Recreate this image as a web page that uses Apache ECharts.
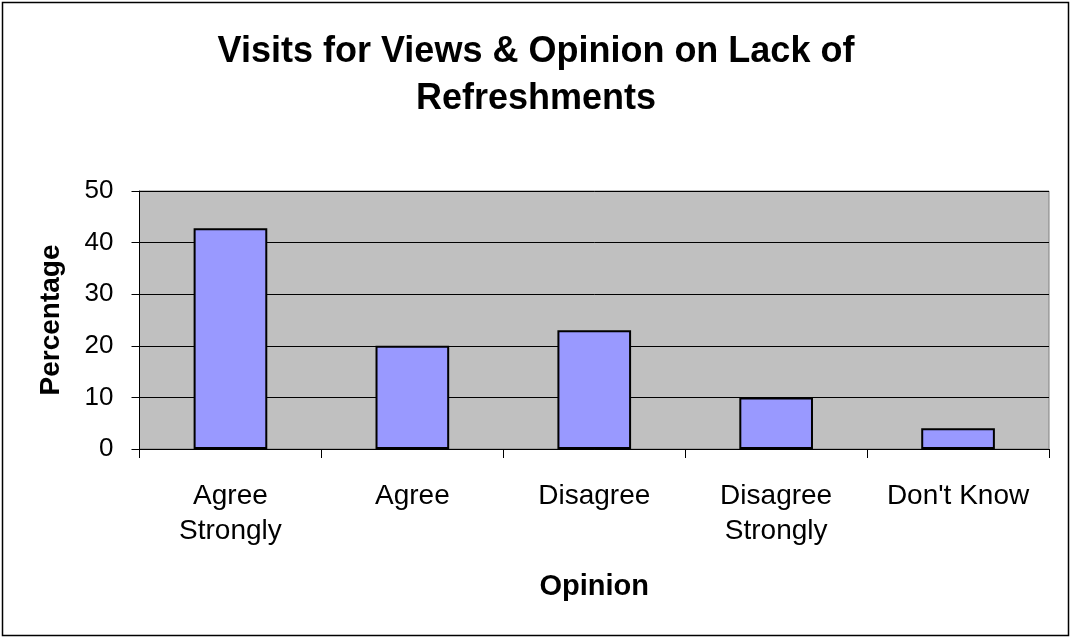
<!DOCTYPE html>
<html>
<head>
<meta charset="utf-8">
<script src="https://cdn.jsdelivr.net/npm/echarts@6/dist/echarts.min.js"></script>
<style>
html,body{margin:0;padding:0;background:#fff;}
#chart{width:1072px;height:639px;}
</style>
</head>
<body>
<div id="chart"></div>
<script>
const categories = ['Agree\nStrongly', 'Agree', 'Disagree', 'Disagree\nStrongly', "Don't Know"];
const percentages = [42.8, 20, 23, 10, 4];
const yTicks = [0, 10, 20, 30, 40, 50];

const FONT = 'Liberation Sans, Arial, sans-serif';
const chart = echarts.init(document.getElementById('chart'));
chart.setOption({
  animation: false,
  backgroundColor: '#ffffff',
  textStyle: { fontFamily: FONT },
  title: {
    text: 'Visits for Views & Opinion on Lack of\nRefreshments',
    left: 'center',
    top: 29,
    padding: 0,
    textStyle: { fontSize: 36, fontWeight: 'bold', color: '#000', lineHeight: 47, fontFamily: FONT }
  },
  graphic: [{
    type: 'rect', shape: { x: 2.5, y: 2.5, width: 1066, height: 633 },
    style: { fill: 'none', stroke: '#000', lineWidth: 1.5 }, silent: true
  }],
  grid: {
    left: 139.5, right: 23, top: 191, bottom: 190,
    show: true, backgroundColor: '#c0c0c0', borderColor: '#808080', borderWidth: 1
  },
  xAxis: {
    type: 'category',
    data: categories,
    name: 'Opinion',
    nameLocation: 'middle',
    nameGap: 123,
    nameTextStyle: { fontSize: 29, fontWeight: 'bold', color: '#000', fontFamily: FONT },
    axisLine: { lineStyle: { color: '#000', width: 1 } },
    axisTick: { show: true, length: 9, lineStyle: { color: '#000' } },
    axisLabel: { fontSize: 28, color: '#000', margin: 30, lineHeight: 35, interval: 0, fontFamily: FONT }
  },
  yAxis: {
    type: 'value',
    min: yTicks[0], max: yTicks[yTicks.length - 1], interval: 10,
    name: 'Percentage',
    nameLocation: 'middle',
    nameGap: 74,
    nameTextStyle: { fontSize: 28, fontWeight: 'bold', color: '#000', fontFamily: FONT },
    axisLine: { show: true, lineStyle: { color: '#000', width: 1 } },
    axisTick: { show: true, length: 8, inside: false, lineStyle: { color: '#000' } },
    axisLabel: { fontSize: 26, color: '#000', margin: 26, fontFamily: FONT },
    splitLine: { show: true, lineStyle: { color: '#000', width: 1 } }
  },
  series: [{
    type: 'bar',
    data: percentages,
    barCategoryGap: '59.5%',
    itemStyle: { color: '#9999ff', borderColor: '#000', borderWidth: 2 }
  }]
});
</script>
</body>
</html>
